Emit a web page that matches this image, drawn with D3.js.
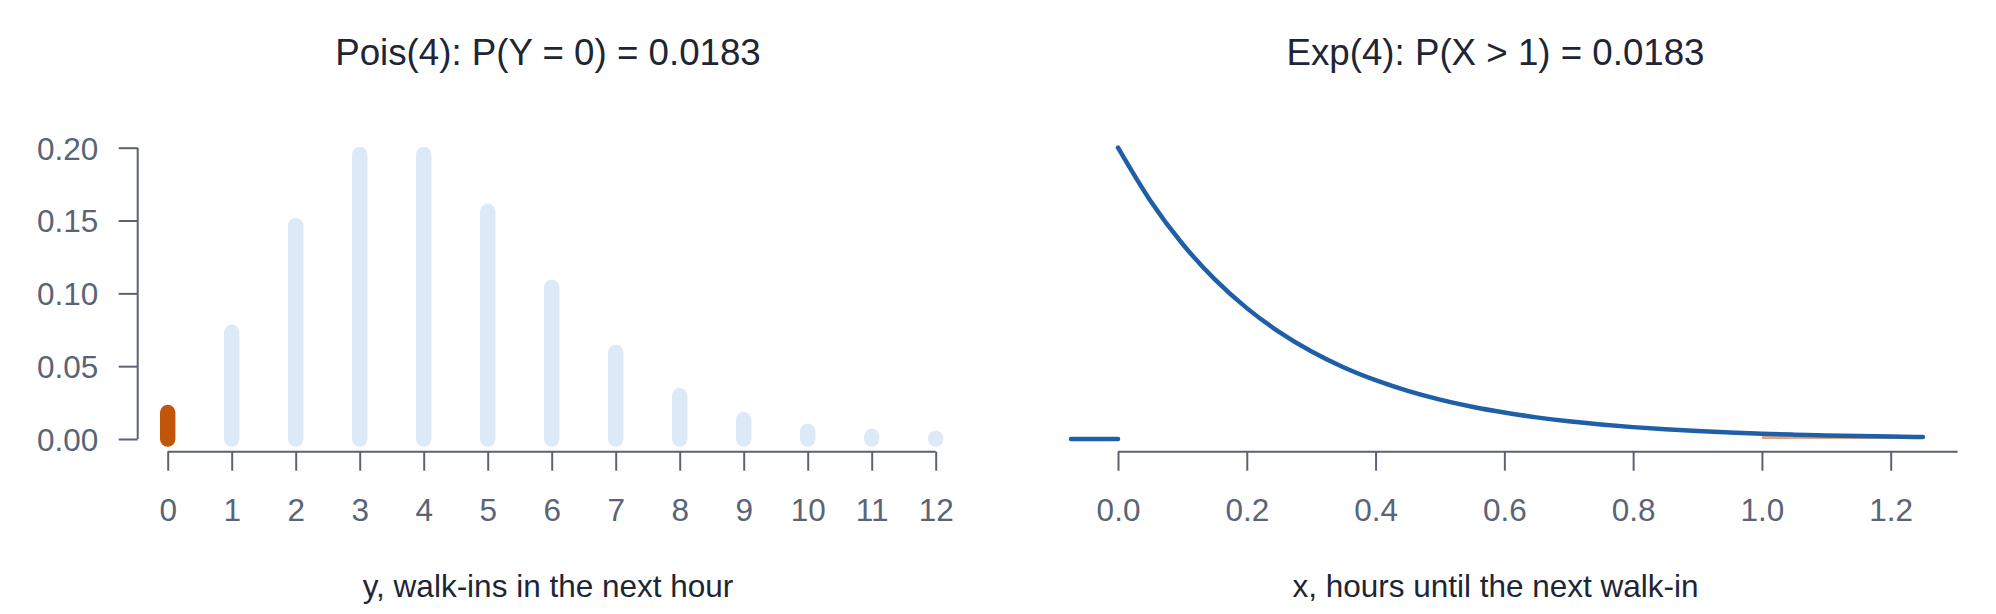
<!DOCTYPE html>
<html><head><meta charset="utf-8">
<script src="https://cdn.jsdelivr.net/npm/d3@7"></script>
<style>html,body{margin:0;padding:0;background:#fff;} svg{display:block;font-family:"Liberation Sans",Arial,sans-serif;}</style>
</head><body>
<svg id="c" width="1996" height="614"></svg>
<script>
// Data
const poisCounts = [0,1,2,3,4,5,6,7,8,9,10,11,12];
const poisProb = [0.0183,0.0733,0.1465,0.1954,0.1954,0.1563,0.1042,0.0595,0.0298,0.0132,0.0053,0.0019,0.0006];
const highlightCount = 0;
const yTicks = [0,0.05,0.10,0.15,0.20];
const expX = [0,0.05,0.10,0.15,0.20,0.25,0.30,0.35,0.40,0.45,0.50,0.55,0.60,0.65,0.70,0.75,0.80,0.85,0.90,0.95,1.00,1.05,1.10,1.15,1.20,1.25];
const expDens = [4.000,3.275,2.681,2.195,1.797,1.472,1.205,0.986,0.808,0.661,0.541,0.443,0.363,0.297,0.243,0.199,0.163,0.134,0.109,0.090,0.073,0.060,0.049,0.040,0.033,0.027];
const expTicks = [0,0.2,0.4,0.6,0.8,1.0,1.2];
const zeroSeg = [-0.073, 0];
const tailStart = 1.0;
const axisEndX = 1.304;
const titles = ["Pois(4): P(Y = 0) = 0.0183", "Exp(4): P(X > 1) = 0.0183"];
const xLabels = ["y, walk-ins in the next hour", "x, hours until the next walk-in"];

const svg = d3.select("#c");
const axisCol = "#5b6372", tickCol = "#5a6477", textCol = "#1e2535";
const barCol = "#dce9f7", hiCol = "#c1560a", lineCol = "#1f5fa8";

// Left panel
const xL = d3.scaleLinear().domain([0,12]).range([167.7,935.7]);
const yL = d3.scaleLinear().domain([0,0.2]).range([439,147.7]);
const gL = svg.append("g");
const xAxL = d3.axisBottom(xL).tickValues(poisCounts).tickSize(19).tickPadding(0).tickFormat(d3.format("d"));
const gxL = gL.append("g").attr("transform","translate(0,451.7)").call(xAxL);
const yAxL = d3.axisLeft(yL).tickValues(yTicks).tickSize(19).tickPadding(0).tickFormat(d3.format(".2f"));
const gyL = gL.append("g").attr("transform","translate(137.7,0)").call(yAxL);

// Right panel
const xR = d3.scaleLinear().domain([0,1.2]).range([1118,1890.7]);
const yR = d3.scaleLinear().domain([0,4]).range([439,147.7]);
const gR = svg.append("g");
const xAxR = d3.axisBottom(xR).tickValues(expTicks).tickSize(19).tickPadding(0).tickFormat(d3.format(".1f"));
const gxR = gR.append("g").attr("transform","translate(0,451.7)").call(xAxR);
gxR.select(".domain").attr("d", `M${xR(0)},0H${xR(axisEndX)}`);

[gxL, gyL, gxR].forEach(g=>{
  g.select(".domain").attr("stroke",axisCol).attr("stroke-width",2).attr("fill","none");
  g.selectAll(".tick line").attr("stroke",axisCol).attr("stroke-width",2);
  g.selectAll(".tick text").attr("fill",tickCol).style("font-size","31.5px").style("font-family",'"Liberation Sans",Arial,sans-serif');
});
gxL.select(".domain").attr("d", `M${xL(0)},0H${xL(12)}`);
gyL.select(".domain").attr("d", `M0,${yL(0)}V${yL(0.2)}`);
[gxL, gxR].forEach(g=>g.selectAll(".tick text").attr("dy",null).attr("y",69));
gyL.selectAll(".tick text").attr("dy",null).attr("y",11.3).attr("x",-39.4);

// Bars
gL.selectAll("line.bar").data(poisCounts).join("line").attr("class","bar")
  .attr("x1",d=>xL(d)).attr("x2",d=>xL(d))
  .attr("y1",yL(0)).attr("y2",(d,i)=>yL(poisProb[i]))
  .attr("stroke",d=>d===highlightCount?hiCol:barCol)
  .attr("stroke-width",15.4).attr("stroke-linecap","round");

// Tail area
const pts = expX.map((x,i)=>[x,expDens[i]]);
const tail = pts.filter(p=>p[0]>=tailStart);
gR.append("path").datum(tail)
  .attr("d", d3.area().x(d=>xR(d[0])).y0(yR(0)).y1(d=>yR(d[1])).curve(d3.curveMonotoneX))
  .attr("fill","#e3a57c");
// Curve
gR.append("path").datum(pts)
  .attr("d", d3.line().x(d=>xR(d[0])).y(d=>yR(d[1])).curve(d3.curveMonotoneX))
  .attr("fill","none").attr("stroke",lineCol).attr("stroke-width",4.5).attr("stroke-linecap","round");
gR.append("line").attr("x1",xR(zeroSeg[0])).attr("x2",xR(zeroSeg[1]))
  .attr("y1",yR(0)).attr("y2",yR(0))
  .attr("stroke",lineCol).attr("stroke-width",4.5).attr("stroke-linecap","round");

// Titles and labels
const centers = [548, 1495.5];
svg.selectAll("text.title").data(titles).join("text").attr("class","title")
  .attr("x",(d,i)=>centers[i]).attr("y",65).attr("text-anchor","middle")
  .attr("fill",textCol).style("font-size","36.7px").text(d=>d);
svg.selectAll("text.xlab").data(xLabels).join("text").attr("class","xlab")
  .attr("x",(d,i)=>centers[i]).attr("y",597).attr("text-anchor","middle")
  .attr("fill",textCol).style("font-size","31.5px").text(d=>d);
</script>
</body></html>
